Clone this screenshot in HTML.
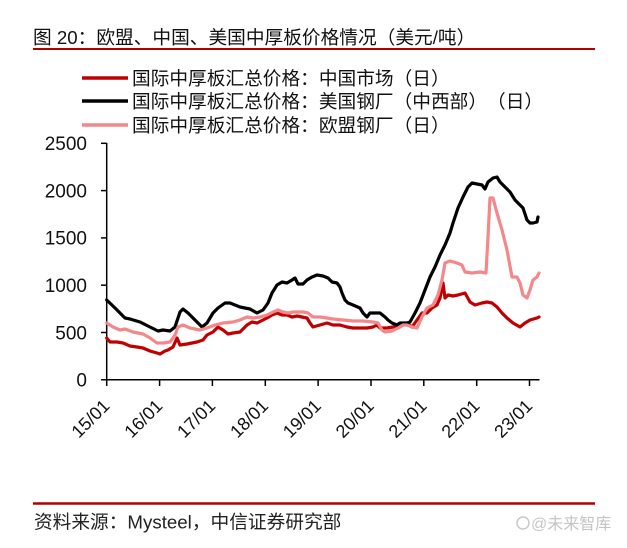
<!DOCTYPE html>
<html><head><meta charset="utf-8"><style>
html,body{margin:0;padding:0;background:#fff;}
svg{display:block;}
text{font-family:"Liberation Sans","Noto Sans CJK SC",sans-serif;text-spacing-trim:space-all;}
</style></head><body>
<svg width="627" height="548" viewBox="0 0 627 548" xmlns="http://www.w3.org/2000/svg">
<rect width="627" height="548" fill="#fff"/>
<!-- Title -->
<text x="33" y="44" font-size="18.7" fill="#111">图 20：欧盟、中国、美国中厚板价格情况（美元/吨）</text>
<line x1="33" y1="49" x2="595" y2="49" stroke="#b00000" stroke-width="2"/>
<!-- Legend -->
<line x1="82" y1="78" x2="128" y2="78" stroke="#c00000" stroke-width="3.5"/>
<text x="132" y="85" font-size="18.7" fill="#111">国际中厚板汇总价格：中国市场（日）</text>
<line x1="82" y1="101" x2="128" y2="101" stroke="#000" stroke-width="3.5"/>
<text x="132" y="108" font-size="18.7" fill="#111">国际中厚板汇总价格：美国钢厂（中西部）（日）</text>
<line x1="82" y1="125" x2="128" y2="125" stroke="#f4878a" stroke-width="3.5"/>
<text x="132" y="132" font-size="18.7" fill="#111">国际中厚板汇总价格：欧盟钢厂（日）</text>
<!-- Axes -->
<g stroke="#000" stroke-width="1.5">
<line x1="106.7" y1="143" x2="106.7" y2="380"/>
<line x1="101" y1="143.3" x2="106.7" y2="143.3"/>
<line x1="101" y1="190.6" x2="106.7" y2="190.6"/>
<line x1="101" y1="237.9" x2="106.7" y2="237.9"/>
<line x1="101" y1="285.2" x2="106.7" y2="285.2"/>
<line x1="101" y1="332.5" x2="106.7" y2="332.5"/>
<line x1="101" y1="379.8" x2="539.5" y2="379.8"/>
<line x1="106.7" y1="379.8" x2="106.7" y2="386"/>
<line x1="159.6" y1="379.8" x2="159.6" y2="386"/>
<line x1="212.4" y1="379.8" x2="212.4" y2="386"/>
<line x1="265.3" y1="379.8" x2="265.3" y2="386"/>
<line x1="318.1" y1="379.8" x2="318.1" y2="386"/>
<line x1="371" y1="379.8" x2="371" y2="386"/>
<line x1="423.8" y1="379.8" x2="423.8" y2="386"/>
<line x1="476.7" y1="379.8" x2="476.7" y2="386"/>
<line x1="529.5" y1="379.8" x2="529.5" y2="386"/>
</g>
<g font-size="19" fill="#111" text-anchor="end">
<text x="87" y="150">2500</text>
<text x="87" y="197.4">2000</text>
<text x="87" y="244.7">1500</text>
<text x="87" y="292">1000</text>
<text x="87" y="339.3">500</text>
<text x="87" y="386.6">0</text>
</g>
<g font-size="18" fill="#111" text-anchor="end">
<text transform="translate(110.7,407) rotate(-45)">15/01</text>
<text transform="translate(163.6,407) rotate(-45)">16/01</text>
<text transform="translate(216.4,407) rotate(-45)">17/01</text>
<text transform="translate(269.3,407) rotate(-45)">18/01</text>
<text transform="translate(322.1,407) rotate(-45)">19/01</text>
<text transform="translate(375,407) rotate(-45)">20/01</text>
<text transform="translate(427.8,407) rotate(-45)">21/01</text>
<text transform="translate(480.7,407) rotate(-45)">22/01</text>
<text transform="translate(533.5,407) rotate(-45)">23/01</text>
</g>
<!-- Series -->
<g fill="none" stroke-width="3.2" stroke-linejoin="round" stroke-linecap="round">
<polyline stroke="#c00000" points="106.7,338 110,342 117,342 123,343 130,346 137,347 143,348 150,351 157,353 160,354 165,351 168,350 173,347 177,338 180,345 187,344 197,342 203,340 207,335 213,332 218,327 223,330 228,334 233,333 240,332 247,325 252,322 257,323 263,320 267,318 272,315 277,313 282,315 287,315 292,317 297,316 302,317 307,318 310,323 313,327 320,325 327,323 333,325 340,325 347,327 353,328 360,328 367,328 373,327 377,325 380,328 387,328 393,327 398,328 403,325 407,323 412,327 417,320 422,313 427,313 432,308 437,305 440,298 443,283 445,298 448,295 453,296 458,295 465,293 470,302 475,305 482,303 487,302 492,303 497,307 502,313 507,318 513,323 520,327 525,323 530,320 537,318 539,317"/>
<polyline stroke="#000" points="106.7,300 115,308 125,318 130,319 140,322 150,327 158,331 163,330 170,331 175,327 180,312 183,309 188,313 197,322 202,327 207,323 213,313 218,308 225,303 230,303 240,307 250,309 257,313 263,310 268,303 272,293 277,285 282,282 287,283 292,280 295,278 298,284 303,284 307,280 312,277 317,275 323,276 328,278 332,282 337,283 340,287 342,293 345,300 348,303 353,305 360,308 363,313 367,317 370,313 375,313 380,313 385,317 388,320 392,323 397,325 400,323 407,323 410,322 415,313 420,303 425,290 430,277 435,267 440,255 445,245 450,233 453,223 458,208 463,197 468,187 472,183 477,184 482,185 485,189 488,182 493,178 497,177 500,182 505,187 510,192 515,200 520,205 523,208 527,220 530,223 533,223 537,222 538,217"/>
<polyline stroke="#f4878a" points="106.7,323 113,327 120,330 125,329 133,332 143,334 150,338 157,343 163,343 170,342 175,335 178,327 183,325 190,328 200,330 207,328 215,325 223,323 233,322 240,320 247,317 253,318 260,317 267,315 273,312 278,310 283,312 288,313 293,312 298,312 303,312 308,313 313,317 320,317 327,318 333,319 343,320 353,321 363,321 373,322 378,323 382,330 385,332 392,331 398,328 403,325 407,325 412,327 417,328 422,317 427,308 433,305 438,295 442,280 445,263 450,261 457,263 462,265 465,272 472,273 480,272 486,273 488,237 490,198 493,198 497,213 502,230 507,250 512,277 517,277 520,283 523,295 527,298 530,290 533,280 537,277 539,273"/>
</g>
<!-- Footer -->
<line x1="33" y1="503.5" x2="595" y2="503.5" stroke="#b00000" stroke-width="2.5"/>
<text x="34" y="528.5" font-size="18.7" fill="#222">资料来源：Mysteel，中信证券研究部</text>
<circle cx="523" cy="523" r="6" fill="none" stroke="#c8c8c8" stroke-width="1.5"/>
<text x="531" y="529" font-size="16" fill="#c4c4c4">@未来智库</text>
</svg>
</body></html>
